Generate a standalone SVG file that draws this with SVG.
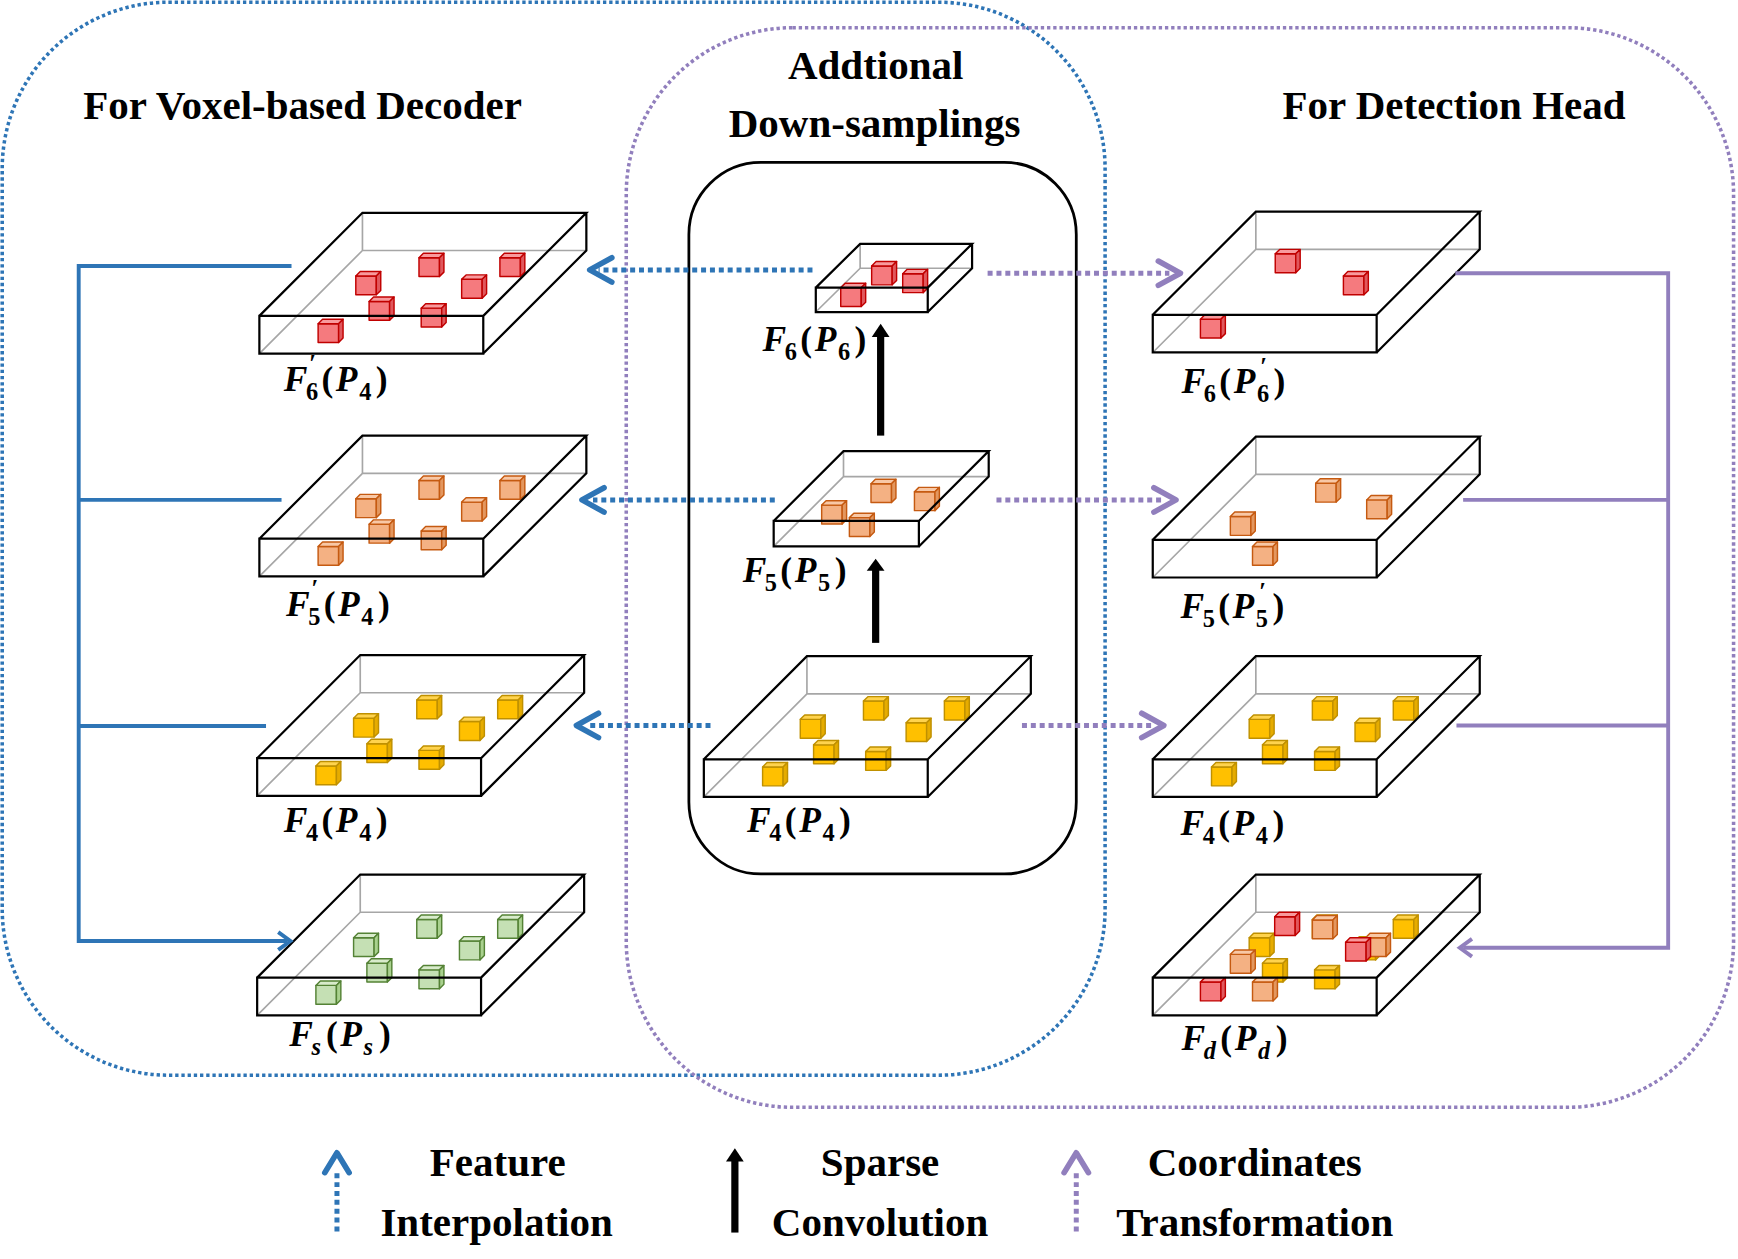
<svg xmlns="http://www.w3.org/2000/svg" xmlns:xlink="http://www.w3.org/1999/xlink" width="1738" height="1259" viewBox="0 0 1738 1259">
<style>
.t{font-family:"Liberation Serif","Times New Roman",serif;font-weight:bold;font-size:37px;fill:#000}
.m{font-family:"Liberation Serif","Times New Roman",serif;font-weight:bold;font-size:32px;fill:#000}
.i{font-style:italic}
.s{font-size:22px}
.gray{stroke:#A6A6A6;stroke-width:1.5;fill:none}
.edge{stroke:#000;stroke-width:2;fill:none;stroke-linejoin:miter}
.bblue{stroke:#2E75B6;stroke-width:3.2;fill:none;stroke-dasharray:3 2.6}
.bpur{stroke:#917FBD;stroke-width:3.2;fill:none;stroke-dasharray:3 2.6}
.sblue{stroke:#2E75B6;stroke-width:3.5;fill:none}
.spur{stroke:#917FBD;stroke-width:3.5;fill:none}
.dblue{stroke:#2E75B6;stroke-width:4.5;fill:none;stroke-dasharray:4.5 3.5}
.dpur{stroke:#917FBD;stroke-width:4.5;fill:none;stroke-dasharray:4.5 3.5}
.hblue{stroke:#2E75B6;stroke-width:5;fill:none;stroke-linecap:round;stroke-linejoin:round}
.hpur{stroke:#917FBD;stroke-width:5;fill:none;stroke-linecap:round;stroke-linejoin:round}
.chb{stroke:#2E75B6;stroke-width:3.5;fill:none;stroke-linejoin:miter}
.chp{stroke:#917FBD;stroke-width:3.5;fill:none;stroke-linejoin:miter}
.blk{stroke:#000;stroke-width:6.5;fill:none}
</style>
<defs>
<g id="cR" stroke="#C00000" stroke-width="1.3" stroke-linejoin="round"><rect x="0" y="4" width="18.5" height="17" fill="#F57A7E"/><polygon points="0,4 4,0 22.5,0 18.5,4" fill="#F89A9D"/><polygon points="18.5,4 22.5,0 22.5,17 18.5,21" fill="#E0585D"/></g>
<g id="cO" stroke="#C55A11" stroke-width="1.3" stroke-linejoin="round"><rect x="0" y="4" width="18.5" height="17" fill="#F4B183"/><polygon points="0,4 4,0 22.5,0 18.5,4" fill="#F8C8A6"/><polygon points="18.5,4 22.5,0 22.5,17 18.5,21" fill="#E3975F"/></g>
<g id="cY" stroke="#BF9000" stroke-width="1.3" stroke-linejoin="round"><rect x="0" y="4" width="18.5" height="17" fill="#FFC000"/><polygon points="0,4 4,0 22.5,0 18.5,4" fill="#FFD34D"/><polygon points="18.5,4 22.5,0 22.5,17 18.5,21" fill="#E6AC00"/></g>
<g id="cG" stroke="#548235" stroke-width="1.3" stroke-linejoin="round"><rect x="0" y="4" width="18.5" height="17" fill="#C5E0B4"/><polygon points="0,4 4,0 22.5,0 18.5,4" fill="#D8EBCB"/><polygon points="18.5,4 22.5,0 22.5,17 18.5,21" fill="#A9D18E"/></g>
<path id="bigBack" class="gray" d="M0,34 L93,-59 M93,-93 V-59 H295"/>
<path id="bigFront" class="edge" d="M0,0 H202 V34 H0 Z M0,0 L93,-93 H295 L202,0 M295,-93 V-59 L202,34"/>
<path id="midBack" class="gray" d="M0,23 L63,-40 M63,-63 V-40 H194"/>
<path id="midFront" class="edge" d="M0,0 H131 V23 H0 Z M0,0 L63,-63 H194 L131,0 M194,-63 V-40 L131,23"/>
<path id="smBack" class="gray" d="M0,22 L40,-17.5 M40,-39.5 V-17.5 H141"/>
<path id="smFront" class="edge" d="M0,0 H101 V22 H0 Z M0,0 L40,-39.5 H141 L101,0 M141,-39.5 V-17.5 L101,22"/>
</defs>
<rect width="1738" height="1259" fill="#fff"/>
<g transform="scale(1.10842)">

<g id="regions">
<rect class="bblue" x="2" y="2" width="995" height="968" rx="150" ry="150"/>
<rect class="bpur" x="565" y="25" width="999" height="974" rx="150" ry="150"/>
<rect x="621.5" y="146.5" width="349.5" height="642" rx="65" ry="65" fill="none" stroke="#000" stroke-width="2.5"/>
</g>

<g id="titles">
<text class="t" x="75" y="107">For Voxel-based Decoder</text>
<text class="t" x="790" y="71" text-anchor="middle">Addtional</text>
<text class="t" x="789" y="124" text-anchor="middle">Down-samplings</text>
<text class="t" x="1157" y="107">For Detection Head</text>
</g>

<g id="node-F6p-P4">
<use xlink:href="#bigBack" x="234" y="285"/>
<use xlink:href="#cR" x="378" y="228.5"/><use xlink:href="#cR" x="451" y="228.5"/><use xlink:href="#cR" x="321" y="245"/><use xlink:href="#cR" x="416.5" y="248"/><use xlink:href="#cR" x="333" y="268"/><use xlink:href="#cR" x="380" y="274"/><use xlink:href="#cR" x="287" y="288"/>
<use xlink:href="#bigFront" x="234" y="285"/>
<text class="m" y="353"><tspan x="256" class="i">F</tspan><tspan x="279" y="336" class="s">′</tspan><tspan x="276" y="361" class="s">6</tspan><tspan x="290" y="353">(</tspan><tspan x="303" class="i">P</tspan><tspan x="324" y="361" class="s">4</tspan><tspan x="339" y="353">)</tspan></text>
</g>

<g id="node-F5p-P4">
<use xlink:href="#bigBack" x="234" y="486"/>
<use xlink:href="#cO" x="378" y="429.5"/><use xlink:href="#cO" x="451" y="429.5"/><use xlink:href="#cO" x="321" y="446"/><use xlink:href="#cO" x="416.5" y="449"/><use xlink:href="#cO" x="333" y="469"/><use xlink:href="#cO" x="380" y="475"/><use xlink:href="#cO" x="287" y="489"/>
<use xlink:href="#bigFront" x="234" y="486"/>
<text class="m" y="556"><tspan x="258" class="i">F</tspan><tspan x="281" y="539" class="s">′</tspan><tspan x="278" y="564" class="s">5</tspan><tspan x="292" y="556">(</tspan><tspan x="305" class="i">P</tspan><tspan x="326" y="564" class="s">4</tspan><tspan x="341" y="556">)</tspan></text>
</g>

<g id="node-F4-P4-left">
<use xlink:href="#bigBack" x="232" y="684"/>
<use xlink:href="#cY" x="376" y="627.5"/><use xlink:href="#cY" x="449" y="627.5"/><use xlink:href="#cY" x="319" y="644"/><use xlink:href="#cY" x="414.5" y="647"/><use xlink:href="#cY" x="331" y="667"/><use xlink:href="#cY" x="378" y="673"/><use xlink:href="#cY" x="285" y="687"/>
<use xlink:href="#bigFront" x="232" y="684"/>
<text class="m" y="751"><tspan x="256" class="i">F</tspan><tspan x="276" y="759" class="s">4</tspan><tspan x="290" y="751">(</tspan><tspan x="303" class="i">P</tspan><tspan x="324" y="759" class="s">4</tspan><tspan x="339" y="751">)</tspan></text>
</g>

<g id="node-Fs-Ps">
<use xlink:href="#bigBack" x="232" y="882"/>
<use xlink:href="#cG" x="376" y="825.5"/><use xlink:href="#cG" x="449" y="825.5"/><use xlink:href="#cG" x="319" y="842"/><use xlink:href="#cG" x="414.5" y="845"/><use xlink:href="#cG" x="331" y="865"/><use xlink:href="#cG" x="378" y="871"/><use xlink:href="#cG" x="285" y="885"/>
<use xlink:href="#bigFront" x="232" y="882"/>
<text class="m" y="944"><tspan x="261" class="i">F</tspan><tspan x="281" y="952" class="s i">s</tspan><tspan x="294" y="944">(</tspan><tspan x="307" class="i">P</tspan><tspan x="328" y="952" class="s i">s</tspan><tspan x="342" y="944">)</tspan></text>
</g>

<g id="node-F6-P6">
<use xlink:href="#smBack" x="736" y="259.5"/>
<use xlink:href="#cR" x="786.4" y="236"/><use xlink:href="#cR" x="814.4" y="243"/><use xlink:href="#cR" x="758.5" y="255.6"/>
<use xlink:href="#smFront" x="736" y="259.5"/>
<text class="m" y="317"><tspan x="688" class="i">F</tspan><tspan x="708" y="325" class="s">6</tspan><tspan x="722" y="317">(</tspan><tspan x="735" class="i">P</tspan><tspan x="756" y="325" class="s">6</tspan><tspan x="771" y="317">)</tspan></text>
</g>

<g id="node-F5-P5">
<use xlink:href="#midBack" x="698" y="470"/>
<use xlink:href="#cO" x="785.8" y="432.4"/><use xlink:href="#cO" x="825" y="439.7"/><use xlink:href="#cO" x="741.3" y="451.7"/><use xlink:href="#cO" x="766.3" y="463"/>
<use xlink:href="#midFront" x="698" y="470"/>
<text class="m" y="525"><tspan x="670" class="i">F</tspan><tspan x="690" y="533" class="s">5</tspan><tspan x="704" y="525">(</tspan><tspan x="717" class="i">P</tspan><tspan x="738" y="533" class="s">5</tspan><tspan x="753" y="525">)</tspan></text>
</g>

<g id="node-F4-P4-mid">
<use xlink:href="#bigBack" x="635" y="685"/>
<use xlink:href="#cY" x="779" y="628.5"/><use xlink:href="#cY" x="852" y="628.5"/><use xlink:href="#cY" x="722" y="645"/><use xlink:href="#cY" x="817.5" y="648"/><use xlink:href="#cY" x="734" y="668"/><use xlink:href="#cY" x="781" y="674"/><use xlink:href="#cY" x="688" y="688"/>
<use xlink:href="#bigFront" x="635" y="685"/>
<text class="m" y="751"><tspan x="674" class="i">F</tspan><tspan x="694" y="759" class="s">4</tspan><tspan x="708" y="751">(</tspan><tspan x="721" class="i">P</tspan><tspan x="742" y="759" class="s">4</tspan><tspan x="757" y="751">)</tspan></text>
</g>

<g id="node-F6-P6p">
<use xlink:href="#bigBack" x="1040" y="284"/>
<use xlink:href="#cR" x="1150.5" y="225"/><use xlink:href="#cR" x="1212" y="245"/><use xlink:href="#cR" x="1083" y="284"/>
<use xlink:href="#bigFront" x="1040" y="284"/>
<text class="m" y="355"><tspan x="1066" class="i">F</tspan><tspan x="1086" y="363" class="s">6</tspan><tspan x="1100" y="355">(</tspan><tspan x="1113" class="i">P</tspan><tspan x="1137" y="338" class="s">′</tspan><tspan x="1134" y="363" class="s">6</tspan><tspan x="1149" y="355">)</tspan></text>
</g>

<g id="node-F5-P5p">
<use xlink:href="#bigBack" x="1040" y="487"/>
<use xlink:href="#cO" x="1187" y="432"/><use xlink:href="#cO" x="1233" y="447"/><use xlink:href="#cO" x="1110" y="462"/><use xlink:href="#cO" x="1130" y="489"/>
<use xlink:href="#bigFront" x="1040" y="487"/>
<text class="m" y="558"><tspan x="1065" class="i">F</tspan><tspan x="1085" y="566" class="s">5</tspan><tspan x="1099" y="558">(</tspan><tspan x="1112" class="i">P</tspan><tspan x="1136" y="541" class="s">′</tspan><tspan x="1133" y="566" class="s">5</tspan><tspan x="1148" y="558">)</tspan></text>
</g>

<g id="node-F4-P4-right">
<use xlink:href="#bigBack" x="1040" y="685"/>
<use xlink:href="#cY" x="1184" y="628.5"/><use xlink:href="#cY" x="1257" y="628.5"/><use xlink:href="#cY" x="1127" y="645"/><use xlink:href="#cY" x="1222.5" y="648"/><use xlink:href="#cY" x="1139" y="668"/><use xlink:href="#cY" x="1186" y="674"/><use xlink:href="#cY" x="1093" y="688"/>
<use xlink:href="#bigFront" x="1040" y="685"/>
<text class="m" y="753"><tspan x="1065" class="i">F</tspan><tspan x="1085" y="761" class="s">4</tspan><tspan x="1099" y="753">(</tspan><tspan x="1112" class="i">P</tspan><tspan x="1133" y="761" class="s">4</tspan><tspan x="1148" y="753">)</tspan></text>
</g>

<g id="node-Fd-Pd">
<use xlink:href="#bigBack" x="1040" y="882"/>
<use xlink:href="#cY" x="1184" y="825.5"/><use xlink:href="#cY" x="1257" y="825.5"/><use xlink:href="#cY" x="1127" y="842"/><use xlink:href="#cY" x="1222.5" y="845"/><use xlink:href="#cY" x="1139" y="865"/><use xlink:href="#cY" x="1186" y="871"/>
<use xlink:href="#cO" x="1184" y="826"/><use xlink:href="#cO" x="1232" y="842"/><use xlink:href="#cO" x="1110" y="857"/><use xlink:href="#cO" x="1130" y="882"/>
<use xlink:href="#cR" x="1150" y="823"/><use xlink:href="#cR" x="1214" y="846"/><use xlink:href="#cR" x="1083" y="882"/>
<use xlink:href="#bigFront" x="1040" y="882"/>
<text class="m" y="947"><tspan x="1066" class="i">F</tspan><tspan x="1086" y="955" class="s i">d</tspan><tspan x="1101" y="947">(</tspan><tspan x="1114" class="i">P</tspan><tspan x="1135" y="955" class="s i">d</tspan><tspan x="1151" y="947">)</tspan></text>
</g>

<g id="connectors">
<path class="sblue" d="M263,240 H71 V849 H259 M254,451 H71 M240,655 H71"/>
<path class="chb" d="M251,841 L262,849 L251,857"/>
<path class="spur" d="M1313,246.5 H1505 V855 H1320 M1320,451 H1505 M1314,654.5 H1505"/>
<path class="chp" d="M1328,847 L1317,855 L1328,863"/>
<path class="dblue" d="M733,243.5 H540"/>
<path class="hblue" d="M552,232.5 L532,243.5 L552,254.5"/>
<path class="dblue" d="M699,451 H535"/>
<path class="hblue" d="M545,440 L525,451 L545,462"/>
<path class="dblue" d="M641,654.5 H530"/>
<path class="hblue" d="M540,643.5 L520,654.5 L540,665.5"/>
<path class="dpur" d="M891,246.5 H1055"/>
<path class="hpur" d="M1045,235.5 L1065,246.5 L1045,257.5"/>
<path class="dpur" d="M899,451 H1051"/>
<path class="hpur" d="M1041,440 L1061,451 L1041,462"/>
<path class="dpur" d="M922,654.5 H1040"/>
<path class="hpur" d="M1030,643.5 L1050,654.5 L1030,665.5"/>
<path class="blk" d="M794.5,393 V303"/>
<polygon points="786.5,304 802.5,304 794.5,292"/>
<path class="blk" d="M790,580 V514"/>
<polygon points="782,515 798,515 790,504"/>
</g>

<g id="legend">
<path class="dblue" d="M304,1111 V1058"/>
<path class="hblue" d="M293,1058 L304,1040 L315,1058"/>
<text class="t" x="449" y="1061" text-anchor="middle">Feature</text>
<text class="t" x="448" y="1115" text-anchor="middle">Interpolation</text>
<path class="blk" d="M663,1112 V1047"/>
<polygon points="655,1048 671,1048 663,1036"/>
<text class="t" x="794" y="1061" text-anchor="middle">Sparse</text>
<text class="t" x="794" y="1115" text-anchor="middle">Convolution</text>
<path class="dpur" d="M971,1111 V1058"/>
<path class="hpur" d="M960,1058 L971,1040 L982,1058"/>
<text class="t" x="1132" y="1061" text-anchor="middle">Coordinates</text>
<text class="t" x="1132" y="1115" text-anchor="middle">Transformation</text>
</g>

</g>
</svg>
